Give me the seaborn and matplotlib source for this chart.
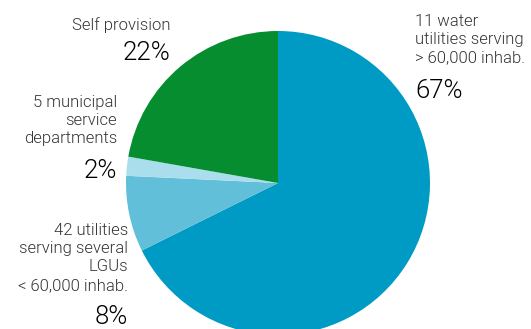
import matplotlib
matplotlib.use("Agg")
import matplotlib.pyplot as plt
import seaborn as sns

categories = ["11 water\nutilities serving\n> 60,000 inhab.",
              "42 utilities\nserving several\nLGUs\n< 60,000 inhab.",
              "5 municipal\nservice\ndepartments",
              "Self provision"]
values = [67, 8, 2, 22]
pct_labels = ["67%", "8%", "2%", "22%"]
colors = ["#009bc4", "#62bfd9", "#abdeec", "#068d30"]

sns.set_theme(style="white")
plt.rcParams["font.family"] = ["Roboto", "DejaVu Sans"]

W, H = 531, 329
fig = plt.figure(figsize=(W / 100, H / 100), dpi=100)
cx, cy, r = 278, 183, 152
ax = fig.add_axes([(cx - r) / W, (H - cy - r) / H, 2 * r / W, 2 * r / H])
ax.pie(values, colors=colors, startangle=90, counterclock=False,
       wedgeprops=dict(linewidth=0))
ax.set_xlim(-1, 1)
ax.set_ylim(-1, 1)
ax.set_aspect("equal")
ax.axis("off")

def px(x, y):
    return x / W, 1 - y / H

label_fs = 12
pct_fs = 18.5
lab_col = "#333333"
pct_col = "#000000"

# (label x, label top y, align, pct y)
layout = [
    (415, 14, "left", 91),
    (128, 223, "right", 317),
    (117, 95, "right", 171),
    (170, 17, "right", 53),
]
for cat, pct, (x, ytop, ha, yp) in zip(categories, pct_labels, layout):
    fig.text(*px(x, ytop), cat, ha=ha, va="top", fontsize=label_fs,
             color=lab_col, fontweight=300, linespacing=1.27)
    fig.text(*px(x, yp), pct, ha=ha, va="center", fontsize=pct_fs,
             color=pct_col, fontweight=300)

fig.savefig("out.png", dpi=100, facecolor="white")
